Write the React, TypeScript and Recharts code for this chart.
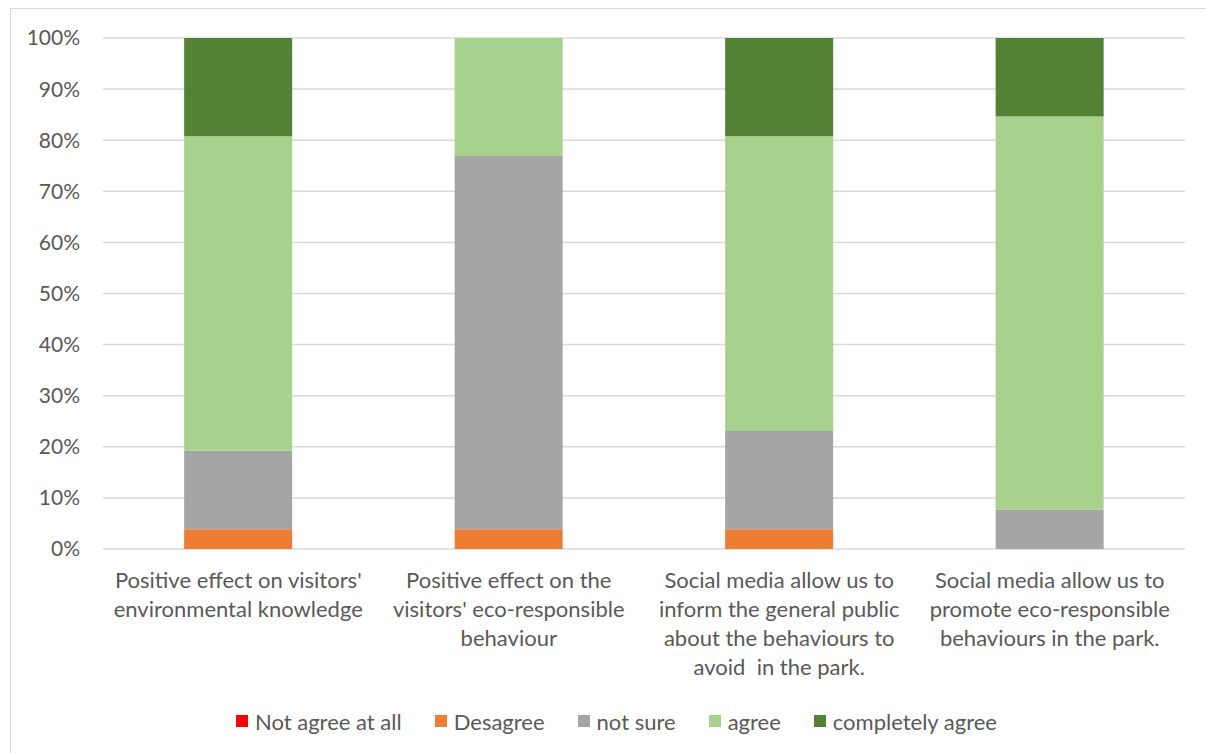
import { BarChart, Bar, XAxis, YAxis, CartesianGrid, Legend } from 'recharts';

const categories = [
  "Positive effect on visitors'\nenvironmental knowledge",
  "Positive effect on the\nvisitors' eco-responsible\nbehaviour",
  'Social media allow us to\ninform the general public\nabout the behaviours to\navoid  in the park.',
  'Social media allow us to\npromote eco-responsible\nbehaviours in the park.',
];
const notAgreeAtAll = [0, 0, 0, 0];
const desagree = [3.85, 3.85, 3.85, 0];
const notSure = [15.38, 73.08, 19.23, 7.69];
const agree = [61.54, 23.08, 57.69, 76.92];
const completelyAgree = [19.23, 0, 19.23, 15.38];
const yTicks = [0, 0.1, 0.2, 0.3, 0.4, 0.5, 0.6, 0.7, 0.8, 0.9, 1];

const series = [
  { key: 'notAgree', name: 'Not agree at all', values: notAgreeAtAll, color: '#FF0000' },
  { key: 'desagree', name: 'Desagree', values: desagree, color: '#ED7D31' },
  { key: 'notSure', name: 'not sure', values: notSure, color: '#A5A5A5' },
  { key: 'agree', name: 'agree', values: agree, color: '#A9D18E' },
  { key: 'completely', name: 'completely agree', values: completelyAgree, color: '#548235' },
];

const data = categories.map((name, i) => {
  const row: Record<string, string | number> = { name };
  series.forEach((s) => {
    row[s.key] = s.values[i];
  });
  return row;
});

const FONT = 'Lato, sans-serif';
const TEXT = '#595959';

const CategoryTick = (props: any) => {
  const { x, y, payload } = props;
  const lines = String(payload.value).split('\n');
  return (
    <g transform={`translate(${x},${y})`}>
      <text textAnchor="middle" fill={TEXT} fontSize={22} fontFamily={FONT} style={{ whiteSpace: 'pre' }}>
        {lines.map((l, i) => (
          <tspan key={i} x={0} dy={i === 0 ? 39 : 29}>
            {l}
          </tspan>
        ))}
      </text>
    </g>
  );
};

const LegendContent = () => (
  <div
    style={{
      height: 50,
      boxSizing: 'border-box',
      paddingBottom: 14,
      paddingLeft: 48,
      display: 'flex',
      justifyContent: 'center',
      alignItems: 'center',
      gap: 33,
      fontFamily: FONT,
      fontSize: 22,
      color: TEXT,
    }}
  >
    {series.map((s) => (
      <div key={s.key} style={{ display: 'flex', alignItems: 'center' }}>
        <span style={{ width: 12, height: 12, background: s.color, marginRight: 7, display: 'inline-block' }} />
        <span>{s.name}</span>
      </div>
    ))}
  </div>
);

const App = () => {
  return (
    <div style={{ position: 'absolute', left: 0, top: 0, width: 1206, height: 753, overflow: 'hidden', background: '#fff' }}>
      <div
        style={{
          position: 'absolute',
          left: 10,
          top: 8,
          width: 1210,
          height: 760,
          border: '1px solid #d9d9d9',
        }}
      />
      <div style={{ position: 'absolute', left: 0, top: 0 }}>
        <BarChart
          width={1206}
          height={753}
          data={data}
          stackOffset="expand"
          barCategoryGap="30%"
          margin={{ top: 38, right: 21, bottom: 0, left: 0 }}
        >
          <CartesianGrid vertical={false} stroke="#d9d9d9" strokeWidth={1.5} />
          <XAxis
            dataKey="name"
            height={154}
            interval={0}
            axisLine={false}
            tickLine={false}
            tickSize={0}
            tickMargin={0}
            tick={<CategoryTick />}
          />
          <YAxis
            width={103}
            domain={[0, 1]}
            ticks={yTicks}
            axisLine={false}
            tickLine={false}
            tickSize={0}
            tickMargin={23}
            tick={{ fill: TEXT, fontSize: 21, fontFamily: FONT }}
            tickFormatter={(v: number) => `${Math.round(v * 100)}%`}
          />
          <Legend verticalAlign="bottom" content={<LegendContent />} />
          {series.map((s) => (
            <Bar key={s.key} dataKey={s.key} name={s.name} stackId="a" fill={s.color} isAnimationActive={false} />
          ))}
        </BarChart>
      </div>
    </div>
  );
};

export default App;
